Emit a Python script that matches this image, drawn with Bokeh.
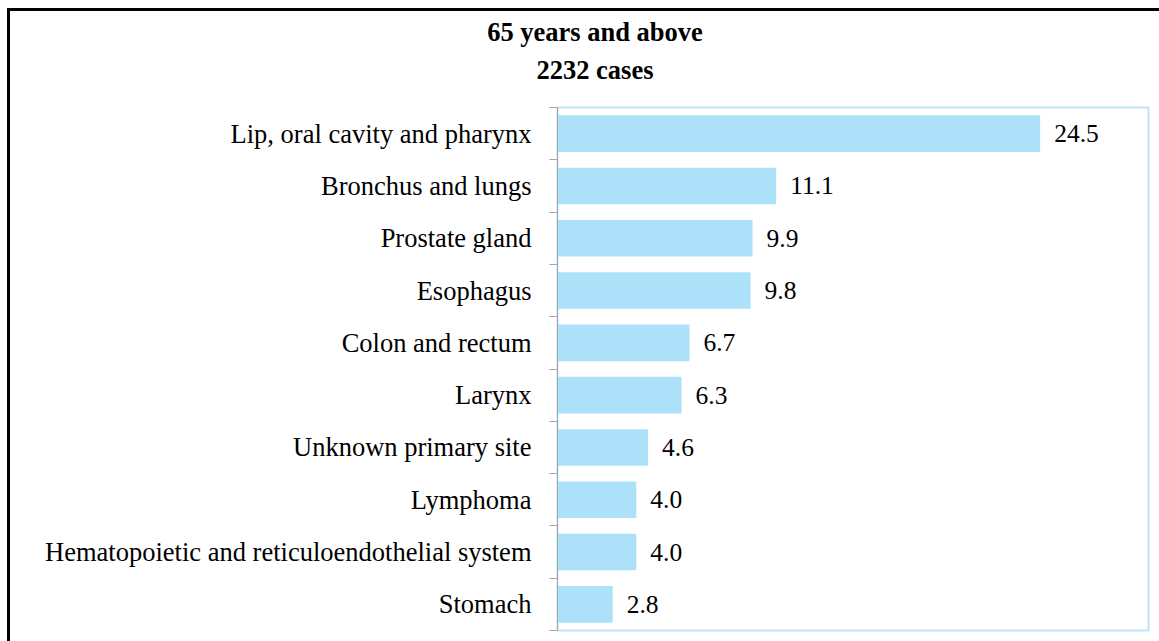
from bokeh.plotting import figure
from bokeh.layouts import column
from bokeh.models import (ColumnDataSource, Range1d, LinearAxis, FixedTicker, LabelSet, Div)
from bokeh.embed import file_html
from bokeh.resources import INLINE

categories = ["Lip, oral cavity and pharynx", "Bronchus and lungs", "Prostate gland", "Esophagus",
              "Colon and rectum", "Larynx", "Unknown primary site", "Lymphoma",
              "Hematopoietic and reticuloendothelial system", "Stomach"]
values = [24.5, 11.1, 9.9, 9.8, 6.7, 6.3, 4.6, 4.0, 4.0, 2.8]
value_labels = ["24.5", "11.1", "9.9", "9.8", "6.7", "6.3", "4.6", "4.0", "4.0", "2.8"]
title_lines = ["65 years and above", "2232 cases"]

FONT = "Liberation Serif"
BAR = "#ADE1FA"

n = len(categories)
ypos = [n - 0.5 - i for i in range(n)]
src = ColumnDataSource(dict(y=ypos, cat=categories, val=values, lab=value_labels))

p = figure(width=1149, height=538, output_backend="svg", toolbar_location=None,
           x_range=Range1d(0, 30), y_range=Range1d(0, n),
           x_axis_location=None, y_axis_location=None,
           min_border_left=547, min_border_right=11, min_border_top=4, min_border_bottom=11,
           margin=0)
p.xgrid.visible = False
p.ygrid.visible = False
p.outline_line_color = "#BFE6F8"
p.outline_line_width = 2

p.hbar(y="y", right="val", left=0, height=0.7, source=src, fill_color=BAR, line_color=None)

# tick axis at category boundaries
tick_axis = LinearAxis(ticker=FixedTicker(ticks=list(range(n + 1))),
                       major_label_overrides={i: "" for i in range(n + 1)},
                       major_label_text_font_size="1px", major_label_standoff=0,
                       major_tick_out=8, major_tick_in=0, minor_tick_out=0, minor_tick_in=0,
                       axis_line_color="#A6A6A6", major_tick_line_color="#A6A6A6")
p.add_layout(tick_axis, "left")

cat_axis = LinearAxis(ticker=FixedTicker(ticks=ypos),
                      major_label_overrides={y: c for y, c in zip(ypos, categories)},
                      axis_line_color=None, major_tick_line_color=None,
                      minor_tick_line_color=None,
                      major_tick_out=0, major_tick_in=0, minor_tick_out=0, minor_tick_in=0,
                      major_label_text_font=FONT, major_label_text_font_size="26.5px",
                      major_label_text_color="black", major_label_standoff=18)
p.add_layout(cat_axis, "left")

labels = LabelSet(x="val", y="y", text="lab", source=src, x_offset=14,
                  text_baseline="middle", text_align="left",
                  text_font=FONT, text_font_size="25.5px", text_color="black")
p.add_layout(labels)

title_html = (
    "<div style=\"width:1149px; box-sizing:border-box; text-align:center; padding-left:21px; "
    "padding-top:2px; font-family:'Liberation Serif'; font-weight:bold; font-size:26.5px; "
    "line-height:38px; color:black;\">" + "<br>".join(title_lines) + "</div>"
)
title_div = Div(text=title_html, width=1149, height=92, margin=0)

layout = column(title_div, p, spacing=0,
                styles={"margin-left": "7px", "margin-top": "8px",
                        "border-top": "3px solid black", "border-left": "3px solid black"})

open("out.html", "w").write(file_html(layout, INLINE))
